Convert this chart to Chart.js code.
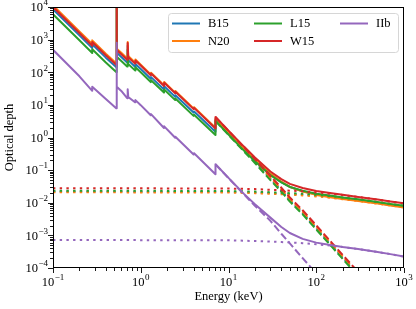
<!DOCTYPE html>
<html><head><meta charset="utf-8">
<script src="https://cdn.jsdelivr.net/npm/chart.js@4/dist/chart.umd.min.js"></script>
<style>html,body{margin:0;padding:0;background:#fff;}canvas{display:block;}</style>
</head><body>
<canvas id="c" width="416" height="309"></canvas>
<script>
// ---------- data ----------
const seriesNames = ['B15', 'N20', 'L15', 'W15', 'IIb'];
const seriesColors = ['#1f77b4', '#ff7f0e', '#2ca02c', '#d62728', '#9467bd'];

// energy grid of the total optical depth (keV); repeated values mark absorption edges / lines
const energy = [0.1, 0.2, 0.28, 0.28, 0.4, 0.525, 0.53, 0.535, 0.6, 0.7, 0.71, 0.72, 0.86, 0.87, 1.0,
  1.3, 1.31, 1.84, 1.85, 2.47, 2.48, 4.0, 4.05, 7.1, 7.11, 10, 15, 20, 30, 40, 50, 70, 100, 150, 200, 300, 500, 700, 1000];

const totalB15 = [8500, 1360, 550, 720, 280, 145, 30000, 400, 295, 198, 650, 235, 148, 180, 126,
  63, 71, 29.6, 37, 17.6, 19.7, 5.8, 6.3, 1.5, 3.52, 1.33, 0.431, 0.201, 0.0738, 0.0431, 0.0305, 0.0226, 0.0182, 0.0154, 0.0138, 0.0120, 0.0099, 0.0086, 0.0076];
const totalN20 = [11200, 1790, 730, 950, 370, 190, 30000, 530, 395, 265, 850, 315, 200, 245, 170,
  86, 96, 40, 50, 23.7, 26.5, 7.8, 8.5, 2.0, 3.82, 1.46, 0.47, 0.218, 0.0778, 0.0442, 0.0306, 0.0221, 0.0174, 0.0146, 0.0131, 0.0114, 0.0094, 0.0082, 0.0072];
const totalL15 = [6000, 960, 390, 510, 198, 102, 30000, 300, 222, 150, 500, 180, 114, 142, 100,
  50, 57, 23.8, 29.5, 14, 15.7, 4.6, 5.0, 1.2, 3.22, 1.22, 0.397, 0.187, 0.0705, 0.0422, 0.0306, 0.0232, 0.0190, 0.0163, 0.0146, 0.0127, 0.0105, 0.0092, 0.0081];
const totalW15 = [10000, 1600, 650, 850, 330, 170, 30000, 480, 356, 240, 790, 290, 184, 229, 160,
  81, 91, 38, 47.5, 22.6, 25.3, 7.4, 8.1, 1.9, 4.28, 1.63, 0.527, 0.246, 0.091, 0.053, 0.038, 0.0283, 0.0228, 0.0194, 0.0175, 0.0151, 0.0125, 0.0109, 0.0096];
const totalIIb = [490, 75, 27, 36, 15.2, 7.9, 800, 36, 26.7, 16, 30, 17.5, 12, 14, 9.8,
  4.8, 5.2, 1.95, 2.2, 0.98, 1.05, 0.30, 0.33, 0.075, 0.151, 0.058, 0.0187, 0.0090, 0.0035, 0.0018, 0.00118, 0.00078, 0.0006, 0.0005, 0.00044, 0.00038, 0.00031, 0.000266, 0.000226];

// photoabsorption (dashed), above the Fe K edge
const energyPhoto = [7.11, 10, 15, 20, 30, 40, 50, 70, 100, 150, 200, 300];
const photoB15 = [3.5, 1.31, 0.41, 0.18, 0.054, 0.0238, 0.0119, 0.0048, 0.00166, 0.00049, 0.000205, 0.000062];
const photoN20 = [3.8, 1.44, 0.45, 0.198, 0.059, 0.026, 0.013, 0.0053, 0.00183, 0.00054, 0.000225, 0.000068];
const photoL15 = [3.2, 1.2, 0.375, 0.165, 0.0495, 0.0218, 0.0109, 0.0044, 0.00152, 0.00045, 0.00019, 0.000057];
const photoW15 = [4.25, 1.6, 0.50, 0.22, 0.066, 0.029, 0.0145, 0.0059, 0.00203, 0.0006, 0.00025, 0.000076];
const photoIIb = [0.15, 0.057, 0.018, 0.0081, 0.0028, 0.00112, 0.00057, 0.0002, 0.000068, 0.00002, 0.0000085, 0.0000025];

// electron scattering (dotted)
const energyScatter = [0.1, 10, 20, 30, 40, 50, 70, 100, 150, 200, 300, 500, 700, 1000];
const scatterB15 = [0.0222, 0.0216, 0.0208, 0.0198, 0.0193, 0.0186, 0.0178, 0.0165, 0.0149, 0.0136, 0.0119, 0.0099, 0.0086, 0.0076];
const scatterN20 = [0.021, 0.0205, 0.0197, 0.0188, 0.0182, 0.0176, 0.0168, 0.0156, 0.0141, 0.0129, 0.0113, 0.0094, 0.0082, 0.0072];
const scatterL15 = [0.0235, 0.0229, 0.0220, 0.0210, 0.0204, 0.0197, 0.0188, 0.0175, 0.0158, 0.0144, 0.0126, 0.0105, 0.0092, 0.0081];
const scatterW15 = [0.028, 0.0273, 0.0262, 0.025, 0.0243, 0.0235, 0.0224, 0.0208, 0.0188, 0.0172, 0.0150, 0.0125, 0.0109, 0.0096];
const scatterIIb = [0.00072, 0.00071, 0.00067, 0.000645, 0.000625, 0.000605, 0.000576, 0.000533, 0.000482, 0.00044, 0.00038, 0.00031, 0.000266, 0.000223];

// axis tick decades (labels are 10^exponent)
const xDecades = [-1, 0, 1, 2, 3];
const yDecades = [-4, -3, -2, -1, 0, 1, 2, 3, 4];
const xTickExponents = ['−1', '0', '1', '2', '3'];
const yTickExponents = ['−4', '−3', '−2', '−1', '0', '1', '2', '3', '4'];

// ---------- build chart ----------
const totals = [totalB15, totalN20, totalL15, totalW15, totalIIb];
const photos = [photoB15, photoN20, photoL15, photoW15, photoIIb];
const scatters = [scatterB15, scatterN20, scatterL15, scatterW15, scatterIIb];
const pts = (xs, ys) => xs.map((x, i) => ({x: x, y: ys[i]}));

const datasets = [];
seriesNames.forEach((name, i) => {
  const c = seriesColors[i];
  datasets.push({label: name, data: pts(energy, totals[i]), borderColor: c, borderWidth: 2});
  datasets.push({label: name + ' photo', data: pts(energyPhoto, photos[i]), borderColor: c, borderWidth: 2, borderDash: [7.4, 3.2]});
  datasets.push({label: name + ' scatter', data: pts(energyScatter, scatters[i]), borderColor: c, borderWidth: 2, borderDash: [2.4, 4.3]});
});
datasets.forEach((d, i) => { d.order = datasets.length - i; d.fill = false; d.pointRadius = 0; });

function allTicks(lo, hi) {
  const t = [];
  for (let e = lo; e <= hi; e++) for (let m = 1; m <= 9; m++) { if (e === hi && m > 1) break; t.push({value: m * Math.pow(10, e)}); }
  return t;
}
const isMajor = v => Math.abs(Math.log10(v) - Math.round(Math.log10(v))) < 1e-6;
const FONT = 'Liberation Serif';

function drawPow(ctx, exp, x, y, align) {
  ctx.font = '12.5px "' + FONT + '"';
  const wb = ctx.measureText('10').width;
  ctx.font = '9px "' + FONT + '"';
  const we = ctx.measureText(exp).width;
  const total = wb + we + 0.5;
  const left = align === 'right' ? x - total : x - total / 2;
  ctx.textBaseline = 'middle'; ctx.textAlign = 'left'; ctx.fillStyle = '#000';
  ctx.font = '12.5px "' + FONT + '"';
  ctx.fillText('10', left, y);
  ctx.font = '9px "' + FONT + '"';
  ctx.fillText(exp, left + wb + 0.5, y - 5);
}

const frameAndTicks = {
  id: 'frameAndTicks',
  afterDatasetsDraw(chart) {
    const {ctx, chartArea: a, scales} = chart;
    ctx.save();
    ctx.strokeStyle = '#000';
    ctx.lineWidth = 0.9;
    scales.x.ticks.forEach(t => {
      const px = Math.round(scales.x.getPixelForValue(t.value)) + 0.5;
      const len = isMajor(t.value) ? 5 : 3;
      ctx.beginPath(); ctx.moveTo(px, a.bottom); ctx.lineTo(px, a.bottom + len); ctx.stroke();
    });
    scales.y.ticks.forEach(t => {
      const py = Math.round(scales.y.getPixelForValue(t.value)) + 0.5;
      const len = isMajor(t.value) ? 5 : 3;
      ctx.beginPath(); ctx.moveTo(a.left, py); ctx.lineTo(a.left - len, py); ctx.stroke();
    });
    ctx.lineWidth = 1;
    ctx.strokeRect(Math.round(a.left) + 0.5, Math.round(a.top) + 0.5, Math.round(a.right - a.left) - 1, Math.round(a.bottom - a.top) - 1);
    // tick labels
    xDecades.forEach((d, i) => drawPow(ctx, xTickExponents[i], scales.x.getPixelForValue(Math.pow(10, d)), a.bottom + 15, 'center'));
    yDecades.forEach((d, i) => drawPow(ctx, yTickExponents[i], a.left - 5, scales.y.getPixelForValue(Math.pow(10, d)) + 1, 'right'));
    ctx.restore();
  },
  afterDraw(chart) {
    const ctx = chart.ctx;
    ctx.save();
    const bx = 168.5, by = 13.5, bw = 230, bh = 39, r = 3;
    ctx.beginPath();
    ctx.moveTo(bx + r, by); ctx.lineTo(bx + bw - r, by); ctx.arcTo(bx + bw, by, bx + bw, by + r, r);
    ctx.lineTo(bx + bw, by + bh - r); ctx.arcTo(bx + bw, by + bh, bx + bw - r, by + bh, r);
    ctx.lineTo(bx + r, by + bh); ctx.arcTo(bx, by + bh, bx, by + bh - r, r);
    ctx.lineTo(bx, by + r); ctx.arcTo(bx, by, bx + r, by, r); ctx.closePath();
    ctx.fillStyle = 'rgba(255,255,255,0.8)'; ctx.fill();
    ctx.strokeStyle = '#d6d6d6'; ctx.lineWidth = 1; ctx.stroke();
    const pos = [[172, 23.5], [172, 41], [254, 23.5], [254, 41], [340, 23.5]];
    ctx.font = '12.5px "' + FONT + '"';
    ctx.textBaseline = 'middle';
    seriesNames.forEach((n, i) => {
      const [x, y] = pos[i];
      ctx.strokeStyle = seriesColors[i]; ctx.lineWidth = 2;
      ctx.beginPath(); ctx.moveTo(x, y); ctx.lineTo(x + 28, y); ctx.stroke();
      ctx.fillStyle = '#000'; ctx.fillText(n, x + 36, y + 0.5);
    });
    ctx.restore();
  }
};

new Chart(document.getElementById('c'), {
  type: 'line',
  data: {datasets: datasets},
  options: {
    responsive: false, animation: false, devicePixelRatio: 1,
    layout: {padding: {top: 7, right: 12, left: 0, bottom: 0}},
    plugins: {legend: {display: false}, tooltip: {enabled: false}},
    elements: {point: {radius: 0}, line: {tension: 0, borderCapStyle: 'butt', borderJoinStyle: 'round'}},
    scales: {
      x: {
        type: 'logarithmic', min: 0.1, max: 1000,
        afterBuildTicks: s => { s.ticks = allTicks(-1, 3); },
        afterFit: s => { s.height = 41; },
        grid: {display: false, drawTicks: false}, border: {display: false},
        ticks: {display: false},
        title: {display: true, text: 'Energy (keV)', color: '#000', font: {family: FONT, size: 12.5}, padding: {top: 0, bottom: 5}}
      },
      y: {
        type: 'logarithmic', min: 1e-4, max: 1e4,
        afterBuildTicks: s => { s.ticks = allTicks(-4, 4); },
        afterFit: s => { s.width = 53; },
        grid: {display: false, drawTicks: false}, border: {display: false},
        ticks: {display: false},
        title: {display: true, text: 'Optical depth', color: '#000', font: {family: FONT, size: 12.5}, padding: {top: 2, bottom: 0}}
      }
    }
  },
  plugins: [frameAndTicks]
});
</script>
</body></html>
